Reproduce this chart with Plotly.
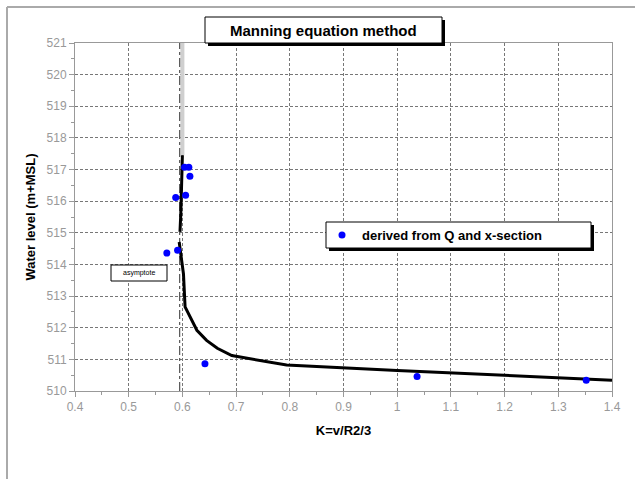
import plotly.graph_objects as go

# ---- data ----
curve_k = [0.600, 0.599, 0.597, 0.5955, None, 0.594, 0.598, 0.602, 0.605, 0.615, 0.627, 0.645, 0.665, 0.692, 0.794, 1.0, 1.2, 1.4]
curve_wl = [517.45, 516.5, 515.6, 515.03, None, 514.71, 514.2, 513.7, 512.66, 512.3, 511.92, 511.6, 511.35, 511.12, 510.82, 510.65, 510.5, 510.34]

pts_k = [0.604, 0.612, 0.614, 0.5875, 0.606, 0.571, 0.591, 0.642, 1.037, 1.352]
pts_wl = [517.07, 517.07, 516.79, 516.12, 516.19, 514.36, 514.45, 510.86, 510.46, 510.34]

asym_k = [0.595, 0.595]
asym_wl = [510, 521]

upper_k = [0.600, 0.600]
upper_wl = [517.45, 521]

x_ticks = [0.4, 0.5, 0.6, 0.7, 0.8, 0.9, 1.0, 1.1, 1.2, 1.3, 1.4]
x_tick_text = ["0.4", "0.5", "0.6", "0.7", "0.8", "0.9", "1", "1.1", "1.2", "1.3", "1.4"]
y_ticks = list(range(510, 522))

# ---- layout geometry (pixels) ----
W, H = 635, 479
L, R, T, B = 75, 612, 43, 391


def px(x):
    return (x - L) / (R - L)


def py(y):
    return (B - y) / (B - T)


fig = go.Figure()

fig.add_trace(go.Scatter(x=upper_k, y=upper_wl, mode="lines",
                         line=dict(color="#cfcfcf", width=4),
                         showlegend=False, hoverinfo="skip"))
fig.add_trace(go.Scatter(x=asym_k, y=asym_wl, mode="lines",
                         line=dict(color="#333333", width=1, dash="dashdot"),
                         showlegend=False, hoverinfo="skip"))
fig.add_trace(go.Scatter(x=curve_k, y=curve_wl, mode="lines",
                         line=dict(color="black", width=3),
                         showlegend=False, connectgaps=False))
fig.add_trace(go.Scatter(x=pts_k, y=pts_wl, mode="markers",
                         marker=dict(color="#0000ff", size=7),
                         name="derived from Q and x-section"))

shapes = []
# outer page border
shapes.append(dict(type="line", xref="paper", yref="paper",
                   x0=px(7), x1=px(640), y0=py(7), y1=py(7),
                   line=dict(color="#aaaaaa", width=2)))
shapes.append(dict(type="line", xref="paper", yref="paper",
                   x0=px(7), x1=px(7), y0=py(7), y1=py(485),
                   line=dict(color="#aaaaaa", width=2)))


def boxed(x0, y0, x1, y1, shadow=3, lw=1):
    out = []
    if shadow:
        out.append(dict(type="rect", xref="paper", yref="paper",
                        x0=px(x0 + shadow), x1=px(x1 + shadow),
                        y0=py(y0 + shadow), y1=py(y1 + shadow),
                        fillcolor="black", line=dict(width=0)))
    out.append(dict(type="rect", xref="paper", yref="paper",
                    x0=px(x0), x1=px(x1), y0=py(y0), y1=py(y1),
                    fillcolor="white", line=dict(color="black", width=lw)))
    return out


shapes += boxed(205, 17, 442, 43)
shapes += boxed(326, 222, 591, 248)
shapes += boxed(111, 265, 167, 281, shadow=0)

annotations = [
    dict(xref="paper", yref="paper", x=px(323.5), y=py(30), text="<b>Manning equation method</b>",
         showarrow=False, font=dict(family="Liberation Sans, Arial", size=15, color="black"),
         xanchor="center", yanchor="middle"),
    dict(xref="paper", yref="paper", x=px(139), y=py(273), text="asymptote",
         showarrow=False, font=dict(family="Liberation Sans, Arial", size=7, color="black"),
         xanchor="center", yanchor="middle"),
]

fig.update_layout(
    width=W, height=H,
    margin=dict(l=L, r=W - R, t=T, b=H - B, pad=0),
    paper_bgcolor="white", plot_bgcolor="white",
    font=dict(family="Liberation Sans, Arial", size=12, color="#888888"),
    shapes=shapes,
    annotations=annotations,
    showlegend=True,
    legend=dict(x=px(322), y=py(235), xanchor="left", yanchor="middle",
                bgcolor="rgba(0,0,0,0)", borderwidth=0,
                font=dict(family="Liberation Sans, Arial", size=13, color="black", weight="bold")),
    xaxis=dict(range=[0.4, 1.4], tickvals=x_ticks, ticktext=x_tick_text,
               showgrid=True, gridcolor="#777777", griddash="3px,2px", gridwidth=1,
               showline=True, linecolor="#999999", linewidth=1, mirror=True,
               ticks="outside", ticklen=5, tickcolor="#999999",
               minor=dict(dtick=0.05, ticks="outside", ticklen=3, tickcolor="#999999", showgrid=False),
               zeroline=False,
               tickfont=dict(size=12, color="#999999"),
               title=dict(text="<b>K=v/R2/3</b>", standoff=12,
                          font=dict(size=13, color="black"))),
    yaxis=dict(range=[510, 521], tickvals=y_ticks,
               showgrid=True, gridcolor="#777777", griddash="3px,2px", gridwidth=1,
               showline=True, linecolor="#999999", linewidth=1, mirror=True,
               ticks="outside", ticklen=5, tickcolor="#999999",
               minor=dict(dtick=0.5, ticks="outside", ticklen=3, tickcolor="#999999", showgrid=False),
               zeroline=False,
               tickfont=dict(size=12, color="#999999"),
               title=dict(text="<b>Water level (m+MSL)</b>", standoff=8,
                          font=dict(size=13, color="black"))),
)

fig.write_html("out.html")
